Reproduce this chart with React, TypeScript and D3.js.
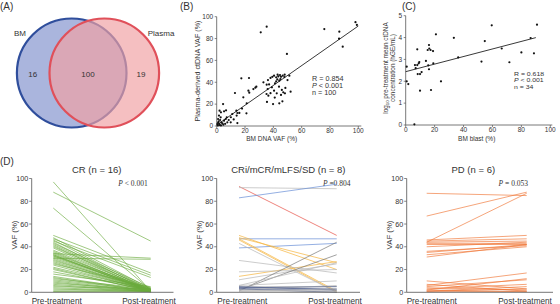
import React from "react";
import * as d3 from "d3";

const FONT = "'Liberation Sans', Arial, sans-serif";
const SERIF = "'Liberation Serif', 'Times New Roman', serif";

// Panel A
const vennLabels = ["BM", "Plasma"];
const vennCounts = [16, 100, 19];

// Panel B
const bmVaf = [35.3,31.1,76,86.6,98,89,49.6,86.4,39.3,40.5,42,43.5,44.7,45.4,46.6,47.8,42.8,44.2,42,41.2,36.2,35.3,36,39,40.5,42.4,35.2,36.5,35.5,39.8,44.2,46.4,45.4,47,48.5,48.2,52.2,50,51.3,17.4,22.8,12.9,22.4,23,25.9,27.3,18.8,21.2,21,17.9,13.9,14.6,11,14.1,9.9,14.6,4.5,5.2,3,6.6,1.6,2.8,1,1.4,2.4,3.3,4,1.9,5.2,6.4,7.1,0.5,1,4.7,7.5,8.5,38,44,46,41,33,37,43,45,2,3,0.8,6,28,16,2,10,12,48,38,99];
const plasmaVaf = [90.9,85.7,88.7,86.3,95,72.6,65.9,79.9,45,46,44.5,45.4,46.6,45,46,44.8,42.7,41.5,40.9,39,42,37.8,33.8,35.4,32.3,29.9,29.3,27.7,22,20.1,20.7,22.6,28.4,30.8,34.8,29.9,31.4,42,46,43.6,43.9,30.2,32.3,30.5,33.8,35.1,26.2,20.7,11.6,15.9,14,11.9,11,9.5,3.4,2.7,20.1,13.4,12.5,14.3,9.5,7.9,6.4,4.3,5.5,3.4,2.4,1.8,4.9,6.4,7.9,1.8,3,1.2,3.4,5.5,44,36,33,26,40,38,47,43,1,0.5,0.5,2,36,12,14,8,6,47,30,92.5];
const bFit = [0.9, 0.906];
const bStats = ["R = 0.854", "< 0.001", "n = 100"];

// Panel C
const blast = [0.7,0.7,1.8,6,6.4,6.9,8,8,8.3,9,9.4,9.9,9.9,11,14,15.2,16.1,16.3,15.6,16.1,17.2,17.5,18.9,19.1,20.9,24.4,33.3,36.3,52.4,54.7,59.5,66.4,71.7,80,86.4,88.7,90.8];
const logConc = [2.67,2.0,1.87,0.03,2.74,2.6,2.74,3.46,2.33,2.82,2.88,2.33,1.57,2.42,2.93,3.43,3.66,3.5,2.73,2.55,3.43,1.6,3.38,2.82,4.15,2.0,3.99,3.09,2.9,3.84,4.56,3.5,2.87,3.32,3.98,3.28,4.59];
const cFit = [2.44, 0.0173];
const cStats = ["R = 0.618", "< 0.001", "n = 34"];

// Panel D
const vafTicks = [0, 20, 40, 60, 80, 100];
const crPre = [97,88,74,50,48,47,46,45,44,43,42,41,40,39,37,36,35,34,34,33,33,32,32,31,30,30,29,28,27,26,25,24,22,21,20,18,16,14,13,12,11,10,9,8,7,6,5,4,3,2,1,0.5];
const crPost = [1,45,2,17,3,15,2,13,1,4,2,0.5,3,1,2,0.5,1,30,2,1,0.5,3,1,2,29,1,0.5,2,1,0.5,4,1,2,0.5,1,2,5,1,0.5,3,2,1,0.5,2,1,0.5,3,1,0.5,2,1,0.5];
const midPre = [93,92,83,47,39,50,48,47,46,14,43,28,18,11,1,2,6,6,5,4,3,2,1,5,3,2,4,1];
const midPost = [50,91,95,47,43,20,26,1,0,27,0,17,20,25,44,33,26,10,5,3,2,6,1,2,0,1,5,3];
const midGroup = ["r","g","b","b","b","o","o","o","o","o","g","g","g","g","d","d","g","g","g","n","n","g","g","n","n","g","n","g"];
const pdPre = [87,67,44,46,45,44,43,42,40,36,35,33,31,10,6,5,4,3,2,1,0.5,7,2,1];
const pdPost = [85,88,87,50,47,45,43,42,44,41,42,40,42,3,17,11,2,7,12,5,1,1,0.5,3];

const groupColor: Record<string, string> = {
  r: "#e8534a", g: "#b8b8b8", b: "#6a8fd6", o: "#f5b540", d: "#7c7c7c", n: "#56658f",
};

function Stats({ x, y, lines, gap, size }: { x: number; y: number; lines: string[]; gap: number; size: number }) {
  return (
    <g fontSize={size}>
      <text transform={`translate(${x},${y}) scale(1.15,1)`}>{lines[0]}</text>
      <text transform={`translate(${x},${y + gap}) scale(1.15,1)`}><tspan fontStyle="italic">P</tspan> {lines[1]}</text>
      <text transform={`translate(${x},${y + 2 * gap}) scale(1.15,1)`}>{lines[2]}</text>
    </g>
  );
}

function PanelB() {
  const x = d3.scaleLinear().domain([0, 100]).range([216.7, 358.3]);
  const y = d3.scaleLinear().domain([0, 100]).range([126, 16.7]);
  const ticks = [0, 20, 40, 60, 80, 100];
  return (
    <g fontFamily={FONT} fill="#333">
      <text x={180} y={10} fontSize={10}>(B)</text>
      <line x1={x(0)} x2={x(100) + 3} y1={y(0)} y2={y(0)} stroke="#555" strokeWidth={0.8} />
      <line x1={x(0)} x2={x(0)} y1={y(0)} y2={y(100)} stroke="#555" strokeWidth={0.8} />
      {ticks.map((t) => (
        <g key={"bx" + t}>
          <line x1={x(t)} x2={x(t)} y1={y(0)} y2={y(0) + 2} stroke="#555" strokeWidth={0.7} />
          <text x={x(t)} y={y(0) + 7.2} fontSize={6.5} textAnchor="middle">{t}</text>
          <line x1={x(0) - 2} x2={x(0)} y1={y(t)} y2={y(t)} stroke="#555" strokeWidth={0.7} />
          <text x={x(0) - 3.5} y={y(t) + 2.3} fontSize={6.5} textAnchor="end">{t}</text>
        </g>
      ))}
      <text x={271.7} y={140.8} fontSize={6.5} textAnchor="middle">BM DNA VAF (%)</text>
      <text transform={`translate(200,${71}) rotate(-90)`} fontSize={7.2} textAnchor="middle">Plasma-derived ctDNA VAF (%)</text>
      <line x1={x(0)} x2={x(100)} y1={y(bFit[0])} y2={y(bFit[0] + bFit[1] * 100)} stroke="#222" strokeWidth={0.9} />
      {bmVaf.map((v, i) => (
        <circle key={"bp" + i} cx={x(v)} cy={y(plasmaVaf[i])} r={1.1} fill="#111" />
      ))}
      <Stats x={312} y={80.5} lines={bStats} gap={7} size={6.3} />
    </g>
  );
}

function PanelC() {
  const x = d3.scaleLinear().domain([0, 100]).range([405.7, 550.3]);
  const y = d3.scaleLinear().domain([0, 5]).range([125, 15.7]);
  const xt = [0, 20, 40, 60, 80, 100];
  const yt = [0, 1, 2, 3, 4, 5];
  return (
    <g fontFamily={FONT} fill="#333">
      <text x={402} y={10} fontSize={10}>(C)</text>
      <line x1={x(0)} x2={x(100) + 2} y1={y(0)} y2={y(0)} stroke="#555" strokeWidth={0.8} />
      <line x1={x(0)} x2={x(0)} y1={y(0)} y2={y(5)} stroke="#555" strokeWidth={0.8} />
      {xt.map((t) => (
        <g key={"cx" + t}>
          <line x1={x(t)} x2={x(t)} y1={y(0)} y2={y(0) + 2} stroke="#555" strokeWidth={0.7} />
          <text x={x(t)} y={y(0) + 7.2} fontSize={6.5} textAnchor="middle">{t}</text>
        </g>
      ))}
      {yt.map((t) => (
        <g key={"cy" + t}>
          <line x1={x(0) - 2} x2={x(0)} y1={y(t)} y2={y(t)} stroke="#555" strokeWidth={0.7} />
          <text x={x(0) - 3.5} y={y(t) + 2.3} fontSize={6.5} textAnchor="end">{t}</text>
        </g>
      ))}
      <text x={476.7} y={140.8} fontSize={6.5} textAnchor="middle">BM blast (%)</text>
      <text transform={`translate(387.8,${68}) rotate(-90)`} fontSize={6.4} textAnchor="middle">
        log<tspan fontSize={4.3} dy={1.4}>10</tspan><tspan dy={-1.4}> pre-treatment mean ctDNA</tspan>
      </text>
      <text transform={`translate(394.8,${68}) rotate(-90)`} fontSize={6.4} textAnchor="middle">concentration (hGE/mL)</text>
      <line x1={x(0)} x2={x(90)} y1={y(cFit[0])} y2={y(cFit[0] + cFit[1] * 90)} stroke="#222" strokeWidth={0.9} />
      {blast.map((v, i) => (
        <circle key={"cp" + i} cx={x(v)} cy={y(logConc[i])} r={1.1} fill="#111" />
      ))}
      <Stats x={514} y={75.5} lines={cStats} gap={6.6} size={6} />
    </g>
  );
}

function PanelA() {
  return (
    <g fontFamily={FONT}>
      <text x={0} y={10} fontSize={10} fill="#333">(A)</text>
      <ellipse cx={71.7} cy={73} rx={54.8} ry={54.5} fill="#aab5dd" stroke="#2f4e9c" strokeWidth={2.2} />
      <ellipse cx={104.3} cy={73} rx={54.8} ry={54.5} fill="#f0a0a3" fillOpacity={0.68} stroke="#e0505a" strokeWidth={2.2} />
      <text x={20} y={36} fontSize={8} fill="#333" textAnchor="middle">{vennLabels[0]}</text>
      <text x={161} y={36} fontSize={8} fill="#333" textAnchor="middle">{vennLabels[1]}</text>
      <text x={32.7} y={76.5} fontSize={8} fill="#333" textAnchor="middle">{vennCounts[0]}</text>
      <text x={88} y={76.5} fontSize={8} fill="#333" textAnchor="middle">{vennCounts[1]}</text>
      <text x={141} y={76.5} fontSize={8} fill="#333" textAnchor="middle">{vennCounts[2]}</text>
    </g>
  );
}

type SlopeProps = {
  yAxisX: number; preX: number; postX: number; axisEnd: number; labelX: number;
  preLabelX: number; postLabelX: number;
  title: string; titleX: number; pText: string; pX: number;
  pre: number[]; post: number[]; color: (i: number) => string; opacity: number;
};

function Slope(p: SlopeProps) {
  const y = d3.scaleLinear().domain([0, 100]).range([292.3, 178.5]);
  const x = d3.scalePoint<string>().domain(["Pre-treatment", "Post-treatment"]).range([p.preX, p.postX]);
  const line = d3.line<[string, number]>().x((d) => x(d[0]) as number).y((d) => y(d[1]));
  return (
    <g fontFamily={FONT} fill="#333">
      <text x={p.titleX} y={173} fontSize={9.5} textAnchor="middle">{p.title}</text>
      <text x={p.pX} y={185.5} fontSize={7.5} fontFamily={SERIF} textAnchor="middle">
        <tspan fontStyle="italic">P</tspan>{p.pText}
      </text>
      {p.pre.map((v, i) => (
        <path key={i} d={line([["Pre-treatment", v], ["Post-treatment", p.post[i]]]) || ""}
          stroke={p.color(i)} strokeOpacity={p.opacity} strokeWidth={0.8} fill="none" />
      ))}
      <line x1={p.yAxisX} x2={p.yAxisX} y1={y(0)} y2={y(100)} stroke="#666" strokeWidth={0.9} />
      <line x1={p.yAxisX} x2={p.axisEnd} y1={y(0)} y2={y(0)} stroke="#666" strokeWidth={0.9} />
      {vafTicks.map((t) => (
        <g key={t}>
          <line x1={p.yAxisX - 2.5} x2={p.yAxisX} y1={y(t)} y2={y(t)} stroke="#666" strokeWidth={0.8} />
          <text x={p.yAxisX - 3.5} y={y(t) + 2.5} fontSize={7.2} textAnchor="end">{t}</text>
        </g>
      ))}
      <text transform={`translate(${p.labelX},235) rotate(-90)`} fontSize={7.8} textAnchor="middle">VAF (%)</text>
      <text x={p.preLabelX} y={303.5} fontSize={8.2} textAnchor="middle">Pre-treatment</text>
      <text x={p.postLabelX} y={303.5} fontSize={8.2} textAnchor="middle">Post-treatment</text>
    </g>
  );
}

export default function App() {
  return (
    <svg width={560} height={304} style={{ position: "absolute", left: 0, top: 0, background: "#fff" }}>
      <rect width={560} height={304} fill="#fff" />
      <PanelA />
      <PanelB />
      <PanelC />
      <text x={0} y={164.5} fontSize={10} fontFamily={FONT} fill="#333">(D)</text>
      <Slope yAxisX={31.7} preX={53.3} postX={150.7} axisEnd={173.5} labelX={17}
        preLabelX={56.7} postLabelX={149} title="CR (n = 16)" titleX={96.7}
        pText=" < 0.001" pX={133} pre={crPre} post={crPost} color={() => "#6aaa3c"} opacity={0.8} />
      <Slope yAxisX={216.7} preX={239} postX={336.7} axisEnd={360} labelX={202}
        preLabelX={242.3} postLabelX={335} title="CRi/mCR/mLFS/SD (n = 8)" titleX={288.3}
        pText=" =0.804" pX={336.7} pre={midPre} post={midPost} color={(i) => groupColor[midGroup[i]]} opacity={0.9} />
      <Slope yAxisX={406.7} preX={426.7} postX={526.7} axisEnd={553} labelX={392}
        preLabelX={431.7} postLabelX={525} title="PD (n = 6)" titleX={473.3}
        pText=" = 0.053" pX={513.3} pre={pdPre} post={pdPost} color={() => "#f07a3c"} opacity={0.85} />
    </svg>
  );
}
